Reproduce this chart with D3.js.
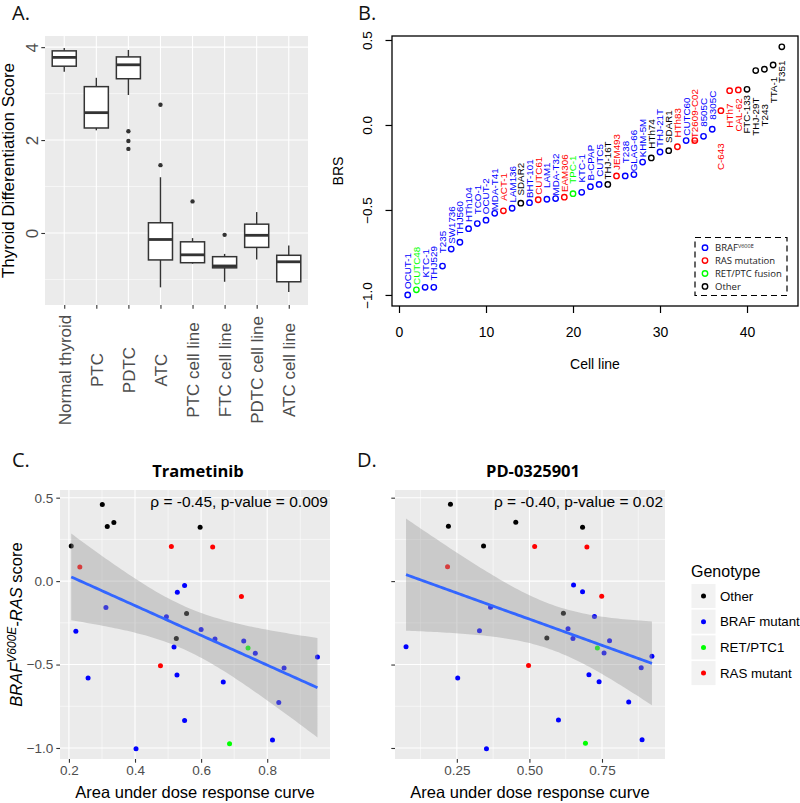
<!DOCTYPE html>
<html><head><meta charset="utf-8">
<script src="https://cdn.jsdelivr.net/npm/d3@7"></script>
<style>body{margin:0;background:#fff}</style>
</head><body>
<svg id="c" width="800" height="803"></svg>
<script>
// ---------------- Panel A data ----------------
const aCategories = ["Normal thyroid","PTC","PDTC","ATC","PTC cell line","FTC cell line","PDTC cell line","ATC cell line"];
const aWhiskerLow  = [3.47, 2.21, 2.97, -1.17, -0.66, -1.05, -0.57, -1.27];
const aQ1          = [3.59, 2.26, 3.32, -0.58, -0.64, -0.75, -0.31, -1.05];
const aMedian      = [3.78, 2.59, 3.62, -0.14, -0.47, -0.71, -0.05, -0.62];
const aQ3          = [3.92, 3.15, 3.79,  0.22, -0.19, -0.51,  0.19, -0.48];
const aWhiskerHigh = [3.98, 3.34, 3.94,  1.20, -0.11, -0.45,  0.45, -0.27];
const aOutliers    = [[], [], [2.19, 1.98, 1.81], [2.76, 1.46], [0.68], [-0.04], [], []];
const aYTicks = [0, 2, 4];
const aYMinor = [-1, 1, 3];

// ---------------- Panel B data ----------------
const brsCellLines = ["OCUT-1","CUTC48","KTC-1","THJ529","T235","SW1736","THJ560","HTh104","TCO-1","OCUT-2",
  "MDA-T41","ACT-1","LAM136","SDAR2","BHT-101","CUTC61","LAM1","MDA-T32","EAM306","TPC-1",
  "KTC-1","B-CPAP","CUTC5","THJ-16T","JEM493","T238","GLAG-66","KHM-5M","HTh74","THJ-21T",
  "SDAR1","HTh83","CUTC60","TT2609-C02","8505C","8305C","C-643","HTh7","CAL-62","FTC-133",
  "THJ-29T","T243","TTA-1","T351"];
const brsValues = [-1.00,-0.97,-0.955,-0.955,-0.83,-0.73,-0.69,-0.61,-0.58,-0.56,
  -0.52,-0.505,-0.49,-0.46,-0.457,-0.44,-0.437,-0.433,-0.425,-0.404,
  -0.396,-0.363,-0.35,-0.35,-0.30,-0.30,-0.292,-0.218,-0.194,-0.159,
  -0.151,-0.128,-0.092,-0.092,-0.067,-0.025,0.084,0.202,0.206,0.21,
  0.32,0.328,0.353,0.46];
const brsGroup = ["BRAF","RET","BRAF","BRAF","BRAF","BRAF","BRAF","BRAF","BRAF","BRAF",
  "BRAF","RAS","BRAF","Other","BRAF","RAS","BRAF","BRAF","RAS","RET",
  "BRAF","BRAF","BRAF","Other","RAS","BRAF","BRAF","BRAF","Other","BRAF",
  "Other","RAS","BRAF","RAS","BRAF","BRAF","RAS","RAS","RAS","Other",
  "Other","Other","Other","Other"];
const brsLabelSide = Array(36).fill("above").concat(["below2","below","below","below","below2","below2","below","below"]);
const brsXTicks = [0, 10, 20, 30, 40];
const brsYTicks = [-1.0, -0.5, 0.0, 0.5];
const brsLegend = [["BRAF","BRAF"],["RAS","RAS mutation"],["RET","RET/PTC fusion"],["Other","Other"]];

// ---------------- Panels C / D data ----------------
const genotypes = ["Other","BRAF mutant","RET/PTC1","RAS mutant"];
const trametinibAUC = [0.207,0.233,0.301,0.316,0.336,0.510,0.597,0.635,0.528,0.550,0.722,0.312,0.221,0.495,0.556,0.600,0.642,0.525,0.518,0.729,0.742,0.764,0.952,0.851,0.477,0.258,0.527,0.667,0.835,0.550,0.816,0.686,0.403];
const trametinibBRS = [0.21,0.084,0.459,0.327,0.351,0.207,0.323,0.204,-0.066,-0.026,-0.092,-0.158,-0.30,-0.214,-0.194,-0.29,-0.347,-0.344,-0.395,-0.359,-0.401,-0.433,-0.455,-0.521,-0.507,-0.581,-0.563,-0.605,-0.727,-0.835,-0.952,-0.974,-1.004];
const trametinibGeno = ["Other","RAS mutant","Other","Other","Other","RAS mutant","Other","RAS mutant","BRAF mutant","BRAF mutant","RAS mutant","BRAF mutant","BRAF mutant","BRAF mutant","Other","BRAF mutant","BRAF mutant","Other","BRAF mutant","BRAF mutant","RET/PTC1","BRAF mutant","BRAF mutant","BRAF mutant","RAS mutant","BRAF mutant","BRAF mutant","BRAF mutant","BRAF mutant","BRAF mutant","BRAF mutant","RET/PTC1","BRAF mutant"];
const pdAUC = [0.228,0.221,0.453,0.683,0.342,0.518,0.698,0.218,0.652,0.683,0.749,0.366,0.617,0.724,0.328,0.633,0.560,0.650,0.776,0.734,0.757,0.075,0.922,0.885,0.497,0.253,0.705,0.740,0.842,0.600,0.888,0.693,0.352];
const pdBRS = [0.461,0.329,0.353,0.323,0.211,0.207,0.204,0.086,-0.024,-0.064,-0.09,-0.156,-0.192,-0.212,-0.298,-0.286,-0.341,-0.344,-0.357,-0.401,-0.431,-0.393,-0.451,-0.519,-0.505,-0.581,-0.561,-0.603,-0.725,-0.832,-0.950,-0.972,-1.004];
const pdGeno = ["Other","Other","Other","Other","Other","RAS mutant","RAS mutant","RAS mutant","BRAF mutant","BRAF mutant","RAS mutant","BRAF mutant","Other","BRAF mutant","BRAF mutant","BRAF mutant","Other","BRAF mutant","BRAF mutant","RET/PTC1","BRAF mutant","BRAF mutant","BRAF mutant","BRAF mutant","RAS mutant","BRAF mutant","BRAF mutant","BRAF mutant","BRAF mutant","BRAF mutant","BRAF mutant","RET/PTC1","BRAF mutant"];
const cXTicks = [0.2, 0.4, 0.6, 0.8];
const cXMinor = [0.3, 0.5, 0.7, 0.9];
const dXTicks = [0.25, 0.50, 0.75];
const dXMinor = [0.125, 0.375, 0.625, 0.875];
const scatterYTicks = [-1.0, -0.5, 0.0, 0.5];
const scatterYMinor = [-0.75, -0.25, 0.25];

// ---------------- styles ----------------
const FONT = "'Liberation Sans', Arial, sans-serif";
const LETTER_FONT = "'Open Sans', sans-serif";
const GG_BG = "#EBEBEB", GG_TEXT = "#4D4D4D", GG_TICK = "#333333";
const brsColor = {BRAF:"#0000FF", RAS:"#FF0000", RET:"#00FF00", Other:"#000000"};
const genoColor = {"Other":"#000000","BRAF mutant":"#0000FF","RET/PTC1":"#00FF00","RAS mutant":"#FF0000"};
const minus = s => s.replace("-", "\u2212");

const svg = d3.select("#c");
svg.append("rect").attr("width",800).attr("height",803).attr("fill","#fff");

function letter(t, x, y) {
  svg.append("text").attr("x",x).attr("y",y).text(t)
    .attr("font-family",LETTER_FONT).attr("font-size",20).attr("fill","#111");
}

// ================= Panel A =================
(function(){
  const L=45, R=308, T=36, B=305;
  const x = d3.scalePoint().domain(aCategories).range([L,R]).padding(0.6);
  const y = d3.scaleLinear().domain([-1.55,4.24]).range([B,T]);
  const g = svg.append("g");
  g.append("rect").attr("x",L).attr("y",T).attr("width",R-L).attr("height",B-T).attr("fill",GG_BG);
  g.selectAll(".mn").data(aYMinor).join("line").attr("x1",L).attr("x2",R)
    .attr("y1",d=>y(d)).attr("y2",d=>y(d)).attr("stroke","#fff").attr("stroke-width",0.55);
  g.selectAll(".mj").data(aYTicks).join("line").attr("x1",L).attr("x2",R)
    .attr("y1",d=>y(d)).attr("y2",d=>y(d)).attr("stroke","#fff").attr("stroke-width",1.1);
  g.selectAll(".vx").data(aCategories).join("line").attr("y1",T).attr("y2",B)
    .attr("x1",d=>x(d)).attr("x2",d=>x(d)).attr("stroke","#fff").attr("stroke-width",1.1);
  const bw = x.step()*0.75;
  aCategories.forEach((c,i)=>{
    const cx = x(c);
    g.append("line").attr("x1",cx).attr("x2",cx).attr("y1",y(aWhiskerHigh[i])).attr("y2",y(aQ3[i]))
      .attr("stroke",GG_TICK).attr("stroke-width",1.4);
    g.append("line").attr("x1",cx).attr("x2",cx).attr("y1",y(aQ1[i])).attr("y2",y(aWhiskerLow[i]))
      .attr("stroke",GG_TICK).attr("stroke-width",1.4);
    g.append("rect").attr("x",cx-bw/2).attr("width",bw).attr("y",y(aQ3[i])).attr("height",y(aQ1[i])-y(aQ3[i]))
      .attr("fill","#fff").attr("stroke",GG_TICK).attr("stroke-width",1.5);
    g.append("line").attr("x1",cx-bw/2).attr("x2",cx+bw/2).attr("y1",y(aMedian[i])).attr("y2",y(aMedian[i]))
      .attr("stroke",GG_TICK).attr("stroke-width",2.8);
    aOutliers[i].forEach(o=>g.append("circle").attr("cx",cx).attr("cy",y(o)).attr("r",2.2).attr("fill",GG_TICK));
  });
  const ya = g.append("g").attr("transform",`translate(${L},0)`)
    .call(d3.axisLeft(y).tickValues(aYTicks).tickSize(3.7).tickFormat(d3.format("d")));
  ya.select(".domain").remove();
  ya.selectAll("line").attr("stroke",GG_TICK).attr("stroke-width",1.1);
  ya.selectAll("text").attr("x",null).attr("dy","0.35em").attr("text-anchor","middle")
    .attr("transform","translate(-12.5,0) rotate(-90)").attr("fill",GG_TEXT)
    .attr("font-size",17).attr("font-family",FONT);
  const xa = g.append("g").attr("transform",`translate(0,${B})`)
    .call(d3.axisBottom(x).tickSize(3.7));
  xa.select(".domain").remove();
  xa.selectAll("line").attr("stroke",GG_TICK).attr("stroke-width",1.1);
  xa.selectAll("text").attr("y",null).attr("dy","0.35em").attr("text-anchor","middle")
    .attr("transform","translate(0,65) rotate(-90)").attr("fill",GG_TEXT)
    .attr("font-size",17).attr("font-family",FONT);
  g.append("text").attr("transform",`translate(8,${(T+B)/2}) rotate(-90)`).attr("dy","0.35em")
    .attr("text-anchor","middle").attr("font-size",17).attr("font-family",FONT).attr("fill","#000")
    .text("Thyroid Differentiation Score");
  letter("A.", 12, 20);
})();

// ================= Panel B =================
(function(){
  const L=392, R=798, T=36, B=306;
  const x = d3.scaleLinear().domain([-0.805,45.86]).range([L,R]);
  const y = d3.scaleLinear().domain([-1.065,0.5235]).range([B,T]);
  const g = svg.append("g");
  g.append("rect").attr("x",L).attr("y",T).attr("width",R-L).attr("height",B-T)
    .attr("fill","none").attr("stroke","#000").attr("stroke-width",1.3);
  brsValues.forEach((v,i)=>{
    const px = x(i+1), py = y(v), col = brsColor[brsGroup[i]];
    g.append("circle").attr("cx",px).attr("cy",py).attr("r",2.7)
      .attr("fill","none").attr("stroke",col).attr("stroke-width",1.4);
    const side = brsLabelSide[i];
    const cy = side==="above" ? py-24 : side==="below" ? py+25 : py+46;
    g.append("text").attr("transform",`translate(${px},${cy}) rotate(-90)`).attr("dy","0.35em")
      .attr("text-anchor","middle").attr("font-size",9.8).attr("font-family",FONT)
      .attr("fill",col).text(brsCellLines[i]);
  });
  const ya = g.append("g").attr("transform",`translate(${L},0)`)
    .call(d3.axisLeft(y).tickValues(brsYTicks).tickSize(6.5).tickFormat(d=>minus(d3.format(".1f")(d))));
  ya.select(".domain").remove();
  ya.selectAll("line").attr("stroke","#000").attr("stroke-width",1.2);
  ya.selectAll("text").attr("x",null).attr("dy","0.35em").attr("text-anchor","middle")
    .attr("transform","translate(-25,0) rotate(-90)").attr("fill","#000")
    .attr("font-size",13.5).attr("font-family",FONT);
  const xa = g.append("g").attr("transform",`translate(0,${B})`)
    .call(d3.axisBottom(x).tickValues(brsXTicks).tickSize(7).tickPadding(14));
  xa.select(".domain").remove();
  xa.selectAll("line").attr("stroke","#000").attr("stroke-width",1.2);
  xa.selectAll("text").attr("fill","#000").attr("font-size",14).attr("font-family",FONT);
  g.append("text").attr("x",595).attr("y",369).attr("text-anchor","middle")
    .attr("font-size",14).attr("font-family",FONT).text("Cell line");
  g.append("text").attr("transform",`translate(338,${(T+B)/2}) rotate(-90)`).attr("dy","0.35em")
    .attr("text-anchor","middle").attr("font-size",14).attr("font-family",FONT).text("BRS");
  // legend
  const lg = g.append("g");
  lg.append("rect").attr("x",695).attr("y",237.5).attr("width",92).attr("height",58)
    .attr("fill","#fff").attr("stroke","#000").attr("stroke-width",1.2).attr("stroke-dasharray","6,4");
  brsLegend.forEach((d,i)=>{
    const ry = 247.7 + i*12.9;
    lg.append("circle").attr("cx",705).attr("cy",ry).attr("r",2.7).attr("fill","none")
      .attr("stroke",brsColor[d[0]]).attr("stroke-width",1.4);
    const t = lg.append("text").attr("x",715).attr("y",ry).attr("dy","0.35em")
      .attr("font-size",9.5).attr("font-family",LETTER_FONT).attr("fill","#222").text(d[1]);
    if (d[0]==="BRAF") t.append("tspan").attr("font-size",5.5).attr("dy","-0.6em").text("V600E");
  });
  letter("B.", 358, 20);
})();

// ================= Panels C / D =================
function lmBand(xs, ys, n) {
  const N = xs.length, mx = d3.mean(xs), my = d3.mean(ys);
  let sxx=0, sxy=0;
  xs.forEach((v,i)=>{ sxx += (v-mx)*(v-mx); sxy += (v-mx)*(ys[i]-my); });
  const b = sxy/sxx, a = my - b*mx;
  let sse = 0; xs.forEach((v,i)=>{ const r = ys[i]-(a+b*v); sse += r*r; });
  const s = Math.sqrt(sse/(N-2)), tq = 2.04;
  const [x0,x1] = d3.extent(xs);
  return d3.range(n).map(k=>{
    const xv = x0 + (x1-x0)*k/(n-1), f = a+b*xv;
    const se = s*Math.sqrt(1/N + (xv-mx)*(xv-mx)/sxx);
    return {x:xv, f, lo:f-tq*se, hi:f+tq*se};
  });
}

function scatterPanel(o) {
  const {L,R,T,B} = o;
  const x = d3.scaleLinear().domain(o.xDomain).range([L,R]);
  const y = d3.scaleLinear().domain([-1.066,0.546]).range([B,T]);
  const g = svg.append("g");
  g.append("rect").attr("x",L).attr("y",T).attr("width",R-L).attr("height",B-T).attr("fill",GG_BG);
  g.selectAll(".ym").data(scatterYMinor).join("line").attr("x1",L).attr("x2",R)
    .attr("y1",d=>y(d)).attr("y2",d=>y(d)).attr("stroke","#fff").attr("stroke-width",0.55);
  g.selectAll(".xm").data(o.xMinor).join("line").attr("y1",T).attr("y2",B)
    .attr("x1",d=>x(d)).attr("x2",d=>x(d)).attr("stroke","#fff").attr("stroke-width",0.55);
  g.selectAll(".yM").data(scatterYTicks).join("line").attr("x1",L).attr("x2",R)
    .attr("y1",d=>y(d)).attr("y2",d=>y(d)).attr("stroke","#fff").attr("stroke-width",1.1);
  g.selectAll(".xM").data(o.xTicks).join("line").attr("y1",T).attr("y2",B)
    .attr("x1",d=>x(d)).attr("x2",d=>x(d)).attr("stroke","#fff").attr("stroke-width",1.1);
  o.xs.forEach((v,i)=>g.append("circle").attr("cx",x(v)).attr("cy",y(o.ys[i])).attr("r",2.5)
    .attr("fill",genoColor[o.geno[i]]));
  const band = lmBand(o.xs, o.ys, 80);
  g.append("path").datum(band).attr("d",d3.area().x(d=>x(d.x)).y0(d=>y(d.lo)).y1(d=>y(d.hi)))
    .attr("fill","#999999").attr("fill-opacity",0.4);
  g.append("path").datum(band).attr("d",d3.line().x(d=>x(d.x)).y(d=>y(d.f)))
    .attr("fill","none").attr("stroke","#3366FF").attr("stroke-width",2.8);
  const ya = g.append("g").attr("transform",`translate(${L},0)`)
    .call(d3.axisLeft(y).tickValues(scatterYTicks).tickSize(3.7).tickPadding(3)
      .tickFormat(d=>o.yLabels ? minus(d3.format(".1f")(d)) : ""));
  ya.select(".domain").remove();
  ya.selectAll("line").attr("stroke",GG_TICK).attr("stroke-width",1.1);
  ya.selectAll("text").attr("fill",GG_TEXT).attr("font-size",13.5).attr("font-family",FONT);
  const xa = g.append("g").attr("transform",`translate(0,${B})`)
    .call(d3.axisBottom(x).tickValues(o.xTicks).tickSize(3.7).tickPadding(3).tickFormat(d3.format(o.xFmt)));
  xa.select(".domain").remove();
  xa.selectAll("line").attr("stroke",GG_TICK).attr("stroke-width",1.1);
  xa.selectAll("text").attr("fill",GG_TEXT).attr("font-size",13.5).attr("font-family",FONT);
  g.append("text").attr("x",(L+R)/2).attr("y",798).attr("text-anchor","middle")
    .attr("font-size",16.5).attr("font-family",FONT).text("Area under dose response curve");
  g.append("text").attr("x",(L+R)/2+3).attr("y",477).attr("text-anchor","middle")
    .attr("font-size",16.5).attr("font-weight","bold").attr("font-family",LETTER_FONT).text(o.title);
  g.append("text").attr("x",R-2).attr("y",507).attr("text-anchor","end")
    .attr("font-size",15.5).attr("font-family",FONT).text(o.stat);
}

scatterPanel({L:60,R:330,T:490,B:759,xDomain:[0.173,0.99],xTicks:cXTicks,xMinor:cXMinor,xFmt:".1f",
  xs:trametinibAUC, ys:trametinibBRS, geno:trametinibGeno, yLabels:true,
  title:"Trametinib", stat:"\u03C1 = -0.45, p-value = 0.009"});
scatterPanel({L:395,R:665,T:490,B:759,xDomain:[0.037,0.967],xTicks:dXTicks,xMinor:dXMinor,xFmt:".2f",
  xs:pdAUC, ys:pdBRS, geno:pdGeno, yLabels:false,
  title:"PD-0325901", stat:"\u03C1 = -0.40, p-value = 0.02"});

// C y title
(function(){
  const t = svg.append("text").attr("transform","translate(22,624.5) rotate(-90)")
    .attr("text-anchor","middle").attr("font-size",16.5).attr("font-family",FONT);
  t.append("tspan").attr("font-style","italic").text("BRAF");
  t.append("tspan").attr("font-style","italic").attr("font-size",12).attr("dy","-0.5em").text("V600E");
  t.append("tspan").attr("font-style","italic").attr("dy","0.36em").text("-RAS");
  t.append("tspan").text(" score");
})();

// Genotype legend
(function(){
  const g = svg.append("g");
  g.append("text").attr("x",691).attr("y",576.5).attr("font-size",16).attr("font-family",FONT).text("Genotype");
  genotypes.forEach((gname,i)=>{
    const cy = 596 + i*25.7;
    g.append("rect").attr("x",691.5).attr("y",cy-12).attr("width",24).attr("height",24).attr("fill","#F2F2F2");
    g.append("circle").attr("cx",703.5).attr("cy",cy).attr("r",2.5).attr("fill",genoColor[gname]);
    g.append("text").attr("x",720).attr("y",cy).attr("dy","0.35em").attr("font-size",13.3)
      .attr("font-family",FONT).text(gname);
  });
})();

letter("C.", 12, 467);
letter("D.", 357, 467);
</script>
</body></html>
